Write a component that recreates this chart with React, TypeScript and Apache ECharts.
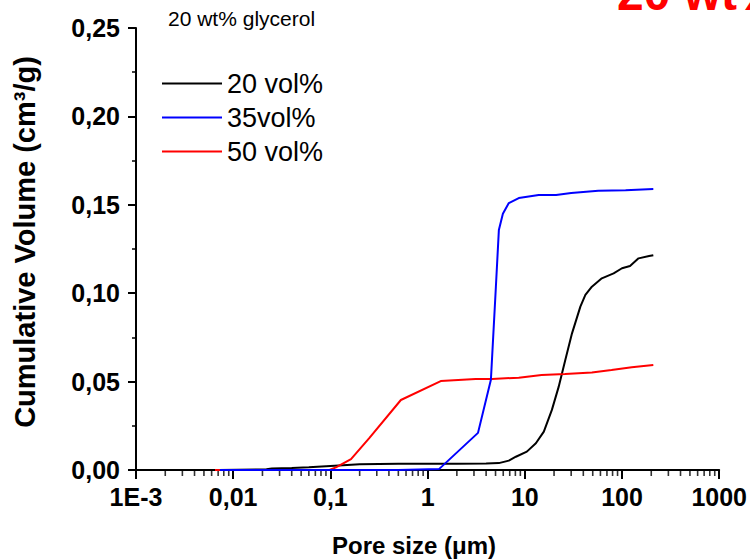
import React, { useEffect, useRef } from "react";
import * as echarts from "echarts";

const xTickLabels = ["1E-3", "0,01", "0,1", "1", "10", "100", "1000"];
const seriesNames = ["20 vol%", "35vol%", "50 vol%"];

const black20: [number, number][] = [
  [0.0072, 0], [0.022, 0.0004], [0.025, 0.0009], [0.04, 0.0012], [0.06, 0.0015],
  [0.1, 0.0023], [0.2, 0.0032], [0.5, 0.0035], [1, 0.0036], [2, 0.0036],
  [4, 0.0037], [5.4, 0.0039], [6.85, 0.0053], [8.1, 0.0075], [10.5, 0.0104],
  [13, 0.0151], [15.7, 0.0217], [19, 0.034], [22.3, 0.047], [26.1, 0.0622],
  [30.6, 0.0773], [37.3, 0.0924], [42, 0.099], [49, 0.1037], [62, 0.1084],
  [82, 0.1112], [100, 0.1141], [121, 0.1154], [148, 0.1197], [190, 0.121],
  [210, 0.1215],
];

const blue35: [number, number][] = [
  [0.0073, 0], [0.5, 0], [1.31, 0.0005], [3.3, 0.021], [4.48, 0.051],
  [5.04, 0.1035], [5.41, 0.1357], [5.95, 0.145], [6.85, 0.151], [8.67, 0.1538],
  [13.9, 0.1555], [21, 0.1556], [30, 0.1567], [57, 0.158], [109, 0.1582],
  [210, 0.159],
];

const red50: [number, number][] = [
  [0.0065, 0], [0.098, 0], [0.114, 0.0015], [0.163, 0.0062], [0.251, 0.018],
  [0.531, 0.0396], [1.365, 0.0503], [3.12, 0.0515], [4.6, 0.0515],
  [8.67, 0.0522], [14.9, 0.0537], [26, 0.0543], [49, 0.0552], [78, 0.0566],
  [126, 0.0581], [210, 0.0594],
];

const minorDecades = [-3, -2, -1, 0, 1, 2];
const minorMultipliers = [2, 3, 4, 5, 6, 7, 8, 9];

const FONT = "'Liberation Sans', Arial, Helvetica, sans-serif";

export default function App() {
  const ref = useRef<HTMLDivElement>(null);
  useEffect(() => {
    if (!ref.current) return;
    const chart = echarts.init(ref.current, undefined, { renderer: "svg" });
    const lineCommon = {
      type: "line" as const,
      showSymbol: false,
      symbol: "none",
      clip: false,
      lineStyle: { width: 2 },
    };
    // minor tick positions of the log x-axis (2..9 in each decade)
    const minorSeriesData: [number, number][] = [];
    minorDecades.forEach((d) =>
      minorMultipliers.forEach((m) => minorSeriesData.push([m * Math.pow(10, d), 0]))
    );
    chart.setOption({
      animation: false,
      backgroundColor: "#ffffff",
      grid: { left: 136, right: 29, top: 28, bottom: 89, containLabel: false },
      legend: {
        orient: "vertical",
        left: 162,
        top: 70,
        padding: 0,
        itemGap: 7,
        itemWidth: 60,
        itemHeight: 2,
        icon: "rect",
        data: seriesNames,
        textStyle: { fontFamily: FONT, fontSize: 27, color: "#000" },
      },
      xAxis: {
        type: "log",
        logBase: 10,
        min: 0.001,
        max: 1000,
        splitLine: { show: false },
        axisLine: { show: true, onZero: false, lineStyle: { color: "#000", width: 2 } },
        axisTick: { show: true, length: 9, lineStyle: { color: "#000", width: 2 } },
        axisLabel: {
          margin: 14,
          fontFamily: FONT,
          fontWeight: "bold",
          fontSize: 25,
          color: "#000",
          formatter: (v: number) => xTickLabels[Math.round(Math.log10(v)) + 3] ?? "",
        },
      },
      yAxis: {
        type: "value",
        min: 0,
        max: 0.25,
        interval: 0.05,
        splitLine: { show: false },
        axisLine: { show: true, lineStyle: { color: "#000", width: 2 } },
        axisTick: { show: true, length: 8, lineStyle: { color: "#000", width: 2 } },
        minorTick: { show: true, splitNumber: 2, length: 4, lineStyle: { color: "#000", width: 1.5 } },
        axisLabel: {
          margin: 16,
          fontFamily: FONT,
          fontWeight: "bold",
          fontSize: 25,
          color: "#000",
          formatter: (v: number) => v.toFixed(2).replace(".", ","),
        },
      },
      series: [
        { ...lineCommon, name: seriesNames[0], data: black20, color: "#000000", z: 3 },
        { ...lineCommon, name: seriesNames[2], data: red50, color: "#ff0000", z: 4 },
        { ...lineCommon, name: seriesNames[1], data: blue35, color: "#0000ff", z: 5 },
        {
          type: "scatter",
          name: "minorTicks",
          silent: true,
          clip: false,
          z: 1,
          data: minorSeriesData,
          symbol: "rect",
          symbolSize: [1.6, 6],
          symbolOffset: [0, 3],
          itemStyle: { color: "#000" },
          tooltip: { show: false },
        },
      ],
      graphic: [
        {
          type: "text",
          left: 617,
          top: -31,
          style: {
            text: "20 wt%",
            fill: "#ff0000",
            font: `bold 48px ${FONT}`,
          },
        },
        {
          type: "text",
          x: 168,
          y: 18,
          style: {
            text: "20 wt% glycerol",
            fill: "#000",
            font: `21px ${FONT}`,
            align: "left",
            verticalAlign: "middle",
          },
        },
        {
          type: "text",
          x: 25,
          y: 242,
          rotation: Math.PI / 2,
          style: {
            text: "Cumulative Volume (cm³/g)",
            fill: "#000",
            font: `bold 29px ${FONT}`,
            align: "center",
            verticalAlign: "middle",
          },
        },
        {
          type: "text",
          x: 414,
          y: 545,
          style: {
            text: "Pore size (μm)",
            fill: "#000",
            font: `bold 24px ${FONT}`,
            align: "center",
            verticalAlign: "middle",
          },
        },
      ],
    });
    return () => chart.dispose();
  }, []);
  return (
    <div
      ref={ref}
      style={{ position: "fixed", left: 0, top: 0, width: 750, height: 559, background: "#fff" }}
    />
  );
}
